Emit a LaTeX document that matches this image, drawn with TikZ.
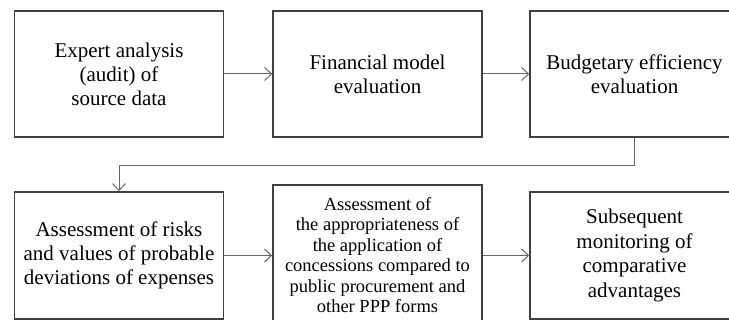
\documentclass[tikz,border=0pt]{standalone}
\usepackage{fontspec}
\setmainfont{Liberation Serif}
\newfontfamily\boxfont{Liberation Serif}
\usetikzlibrary{arrows.meta}

\tikzset{
	stage/.style={draw=black!75,line width=1.5pt,align=center,minimum width=209pt,inner sep=0pt,font=\boxfont\fontsize{21}{24}\selectfont},
	link/.style={draw=black!60,line width=1pt,-{Straight Barb[length=7pt,width=13pt]}}
}

\begin{document}
\begin{tikzpicture}[x=1pt,y=-1pt]
	\useasboundingbox (0,0) rectangle (729,320);
	\fill[white] (0,0) rectangle (729,320);
	
	\node[stage,minimum height=126pt] (audit) at (119,74) {Expert analysis\\(audit) of\\source data};
	\node[stage,minimum height=126pt] (finmodel) at (377.5,74) {Financial model\\evaluation};
	\node[stage,minimum height=126pt] (budget) at (634.5,74) {Budgetary efficiency\\evaluation};
	
	\node[stage,minimum height=127pt] (risks) at (119,255.5) {Assessment of risks\\and values of probable\\deviations of expenses};
	\node[stage,minimum height=140pt,font=\boxfont\fontsize{18.5}{20.5}\selectfont] (concess) at (377.5,255) {Assessment of\\the appropriateness of\\the application of\\concessions compared to\\public procurement and\\other PPP forms};
	\node[stage,minimum height=127pt,font=\boxfont\fontsize{21}{24.5}\selectfont] (monitor) at (634.5,255.5) {Subsequent\\monitoring of\\comparative\\advantages};
	
	\draw[link] (audit) -- (finmodel);
	\draw[link] (finmodel) -- (budget);
	\draw[link] (budget.south) -- ++(0,28) -| (risks.north);
	\draw[link] (risks) -- (concess.west |- risks);
	\draw[link] (concess.east |- monitor) -- (monitor);
	
\end{tikzpicture}
\end{document}
